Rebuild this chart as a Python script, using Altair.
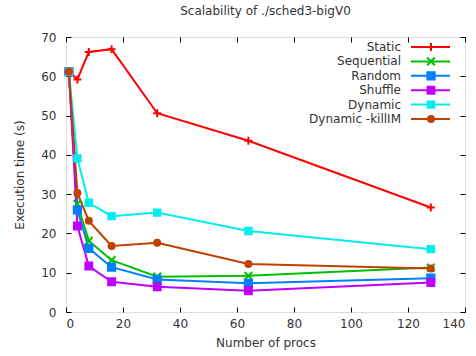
import altair as alt
import pandas as pd

procs = [1, 4, 8, 16, 32, 64, 128]
series = ["Static", "Sequential", "Random", "Shuffle", "Dynamic", "Dynamic -killIM"]
static = [61.2, 59.2, 66.2, 66.9, 50.6, 43.6, 26.6]
sequential = [61.2, 27.5, 18.1, 13.2, 9.0, 9.2, 11.3]
random_ = [61.2, 26.0, 16.2, 11.4, 8.3, 7.3, 8.6]
shuffle = [61.2, 21.9, 11.7, 7.7, 6.4, 5.4, 7.5]
dynamic = [61.2, 39.1, 27.8, 24.4, 25.3, 20.6, 16.0]
killim = [61.2, 30.3, 23.2, 16.8, 17.6, 12.2, 11.1]

colors = ["#ff0000", "#00c000", "#0080ff", "#c000ff", "#00eeee", "#c04000"]
shapes = ["M-1,0L1,0M0,-1L0,1", "M-1,-1L1,1M-1,1L1,-1", "square", "square", "square", "circle"]
sizes = [64, 36, 40, 40, 40, 40]

values = [static, sequential, random_, shuffle, dynamic, killim]
rows = []
for i, (name, vals) in enumerate(zip(series, values)):
    for p, v in zip(procs, vals):
        rows.append({"series": name, "procs": p, "time": v, "order": i})
df = pd.DataFrame(rows)
leg = pd.DataFrame({"series": series, "order": list(range(len(series)))})

FONT = "DejaVu Sans"
TXT = "#333333"
color_scale = alt.Scale(domain=series, range=colors)
shape_scale = alt.Scale(domain=series, range=shapes)
size_scale = alt.Scale(domain=series, range=sizes)
xs = alt.Scale(domain=[0, 140], nice=False, zero=False)
ys = alt.Scale(domain=[0, 70], nice=False, zero=False)
xticks = list(range(0, 141, 20))
yticks = list(range(0, 71, 10))

base = alt.Chart(df)

lines = base.mark_line(strokeWidth=2).encode(
    x=alt.X("procs:Q", scale=xs, axis=alt.Axis(
        values=xticks, orient="bottom", offset=-5, tickSize=5, domain=False, grid=False,
        tickColor="black", labelPadding=6, title="Number of procs", titlePadding=8,
        labelFont=FONT, titleFont=FONT, labelFontSize=12, titleFontSize=12,
        titleFontWeight="normal", labelColor=TXT, titleColor=TXT)),
    y=alt.Y("time:Q", scale=ys, axis=alt.Axis(
        values=yticks, orient="left", offset=-5, tickSize=5, domain=False, grid=False,
        tickColor="black", labelPadding=10, title="Execution time (s)", titlePadding=14,
        labelFont=FONT, titleFont=FONT, labelFontSize=12, titleFontSize=12,
        titleFontWeight="normal", labelColor=TXT, titleColor=TXT)),
    color=alt.Color("series:N", scale=color_scale, legend=None),
    detail="order:N",
)

points = base.mark_point(filled=True, strokeWidth=2, opacity=1).encode(
    x=alt.X("procs:Q", scale=xs, axis=None),
    y=alt.Y("time:Q", scale=ys, axis=None),
    color=alt.Color("series:N", scale=color_scale, legend=None),
    stroke=alt.Stroke("series:N", scale=color_scale, legend=None),
    shape=alt.Shape("series:N", scale=shape_scale, legend=None),
    size=alt.Size("series:N", scale=size_scale, legend=None),
)

mirror = base.mark_point(opacity=0).encode(
    x=alt.X("procs:Q", scale=xs, axis=alt.Axis(
        values=xticks, orient="top", offset=-5, tickSize=5, domain=False, grid=False,
        labels=False, title=None, tickColor="black")),
    y=alt.Y("time:Q", scale=ys, axis=alt.Axis(
        values=yticks, orient="right", offset=-5, tickSize=5, domain=False, grid=False,
        labels=False, title=None, tickColor="black")),
)

ly = alt.Y("series:N", sort=series, scale=alt.Scale(type="point", range=[10, 82], padding=0), axis=None)
lbase = alt.Chart(leg)
leg_text = lbase.mark_text(align="right", baseline="middle", font=FONT, fontSize=12, color=TXT).encode(
    x=alt.value(335), y=ly, text="series:N")
leg_rule = lbase.mark_rule(strokeWidth=2).encode(
    x=alt.value(345), x2=alt.value(384), y=ly,
    color=alt.Color("series:N", scale=color_scale, legend=None))
leg_pt = lbase.mark_point(filled=True, strokeWidth=2, opacity=1).encode(
    x=alt.value(365), y=ly,
    color=alt.Color("series:N", scale=color_scale, legend=None),
    stroke=alt.Stroke("series:N", scale=color_scale, legend=None),
    shape=alt.Shape("series:N", scale=shape_scale, legend=None),
    size=alt.Size("series:N", scale=size_scale, legend=None))

chart = alt.layer(lines, points, mirror, leg_text, leg_rule, leg_pt).resolve_scale(
    x="independent", y="independent"
).properties(
    width=399, height=275,
    title=alt.TitleParams("Scalability of ./sched3-bigV0", font=FONT, fontSize=12,
                          fontWeight="normal", color=TXT, offset=13, anchor="middle"),
    autosize=alt.AutoSizeParams(type="none"),
    padding={"left": 66, "top": 37, "right": 11, "bottom": 44},
).configure_view(stroke="black", strokeWidth=1).configure(background="white")

chart.save("out.html", embed_options={"renderer": "svg", "actions": False})
